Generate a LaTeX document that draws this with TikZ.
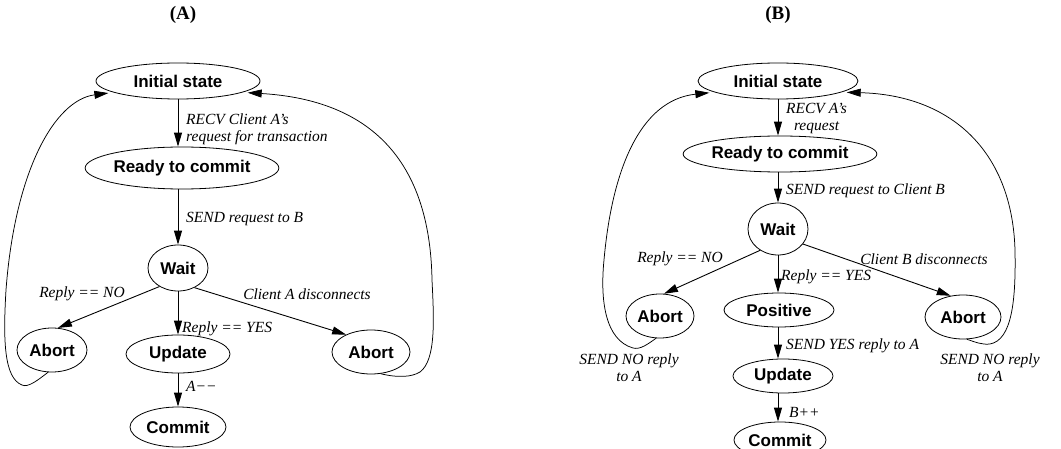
\documentclass[tikz,border=0pt]{standalone}
\usepackage{fontspec}
\setmainfont{Liberation Serif}
\setsansfont{Liberation Sans}
\usetikzlibrary{shapes.geometric,arrows.meta}
\tikzset{
  state/.style={draw, ellipse, inner sep=0pt, line width=0.8pt,
    font=\sffamily\bfseries\fontsize{17}{20}\selectfont},
  lbl/.style={inner sep=0pt, font=\itshape\fontsize{15.5}{17}\selectfont},
  arr/.style={-{Triangle[length=14pt,width=8pt]}, line width=0.9pt},
  loop/.style={arr, line width=0.75pt, shorten >=5pt},
  ttl/.style={font=\bfseries\fontsize{19}{22}\selectfont},
}
\begin{document}
\begin{tikzpicture}[x=1pt,y=-1pt]
  \useasboundingbox (0,0) rectangle (1061,449);
  \clip (0,0) rectangle (1061,449);
  % (A)
  \node[ttl] (titleA) at (183,15) {(A)};
  \node[state, minimum width=164pt, minimum height=36pt] (initA) at (178,81) {Initial state};
  \node[state, minimum width=192pt, minimum height=42pt] (readyA) at (182,168) {Ready to commit};
  \node[state, minimum width=60pt, minimum height=46pt] (waitA) at (178,268) {Wait};
  \node[state, minimum width=70pt, minimum height=44pt] (abortA1) at (52,350) {Abort};
  \node[state, minimum width=104pt, minimum height=38pt] (updateA) at (178,354) {Update};
  \node[state, minimum width=78pt, minimum height=44pt] (abortA2) at (371,352) {Abort};
  \node[state, minimum width=96pt, minimum height=40pt] (commitA) at (178,427) {Commit};
  \draw[arr] (initA.south) -- (initA.south |- readyA.north);
  \node[lbl, anchor=west, align=left] (recvA) at (186,129) {RECV Client A’s\\request for transaction};
  \draw[arr] (waitA.north |- readyA.south) -- (waitA.north);
  \node[lbl, anchor=west] (sendA) at (186,219) {SEND request to B};
  \draw[arr] (waitA.225) -- (abortA1.75);
  \node[lbl] (noA) at (82,294) {Reply == NO};
  \draw[arr] (waitA.south) -- (updateA.north);
  \node[lbl, anchor=west] (yesA) at (182,329) {Reply == YES};
  \draw[arr] (waitA.310) -- (abortA2.145);
  \node[lbl] (discA) at (307,294) {Client A disconnects};
  \draw[arr] (updateA.south) -- (commitA.north);
  \node[lbl, anchor=west] (decA) at (186,386) {A−−};
  \draw[loop] (abortA1.260) .. controls (38,380) and (28,388) .. (22,385)
    .. controls (4,378) and (3,340) .. (6,290)
    .. controls (15,170) and (55,100) .. (initA.190);
  \draw[loop] (abortA2.294) .. controls (398,378) and (412,377) .. (420,372)
    .. controls (436,360) and (434,320) .. (432,280)
    .. controls (430,160) and (370,100) .. (initA.-10);
  % (B)
  \node[ttl] (titleB) at (778,15) {(B)};
  \node[state, minimum width=160pt, minimum height=36pt] (initB) at (778,81) {Initial state};
  \node[state, minimum width=168pt, minimum height=36pt] (readyB) at (780,154) {Ready to commit};
  \node[state, minimum width=60pt, minimum height=52pt] (waitB) at (778,229) {Wait};
  \node[state, minimum width=68pt, minimum height=44pt] (abortB1) at (660,316) {Abort};
  \node[state, minimum width=110pt, minimum height=34pt] (posB) at (779,310) {Positive};
  \node[state, minimum width=76pt, minimum height=44pt] (abortB2) at (963,317) {Abort};
  \node[state, minimum width=100pt, minimum height=34pt] (updateB) at (783,376) {Update};
  \node[state, minimum width=92pt, minimum height=36pt] (commitB) at (780,440) {Commit};
  \draw[arr] (initB.south) -- (initB.south |- readyB.north);
  \node[lbl, anchor=west, align=center] (recvB) at (786,118) {RECV A’s\\request};
  \draw[arr] (waitB.north |- readyB.south) -- (waitB.north);
  \node[lbl, anchor=west] (sendB) at (786,191) {SEND request to Client B};
  \draw[arr] (waitB.230) -- (abortB1.80);
  \node[lbl] (noB) at (680,259) {Reply == NO};
  \draw[arr] (waitB.south) -- (waitB.south |- posB.north);
  \node[lbl, anchor=west] (yesB) at (781,277) {Reply == YES};
  \draw[arr] (waitB.329) -- (abortB2.120);
  \node[lbl] (discB) at (924,259) {Client B disconnects};
  \draw[arr] (waitB.south |- posB.south) -- (waitB.south |- updateB.north);
  \node[lbl, anchor=west] (yesrB) at (786,346) {SEND YES reply to A};
  \draw[arr] (waitB.south |- updateB.south) -- (waitB.south |- commitB.north);
  \node[lbl, anchor=west] (incB) at (789,412) {B++};
  \draw[loop] (abortB1.260) .. controls (648,344) and (640,350) .. (633,348)
    .. controls (605,340) and (600,300) .. (604,260)
    .. controls (612,170) and (640,100) .. (initB.190);
  \node[lbl, align=center] (nortB1) at (629,368) {SEND NO reply\\to A};
  \draw[loop] (abortB2.280) .. controls (975,342) and (982,345) .. (990,344)
    .. controls (1012,340) and (1016,300) .. (1015,250)
    .. controls (1012,150) and (950,95) .. (initB.-10);
  \node[lbl, align=center] (nortB2) at (990,368) {SEND NO reply\\to A};
\end{tikzpicture}
\end{document}
